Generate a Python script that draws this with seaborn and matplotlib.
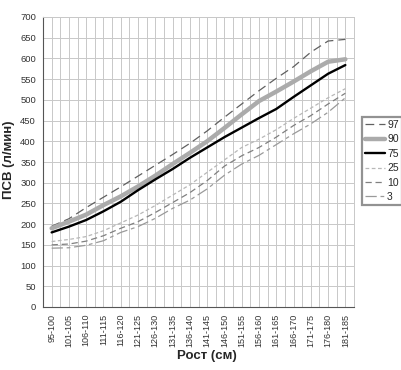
import numpy as np
import pandas as pd
import matplotlib
matplotlib.use("Agg")
import matplotlib.pyplot as plt
import seaborn as sns

categories = ["95-100", "101-105", "106-110", "111-115", "116-120", "121-125",
              "126-130", "131-135", "136-140", "141-145", "146-150", "151-155",
              "156-160", "161-165", "166-170", "171-175", "176-180", "181-185"]
p97 = [195, 213, 240, 265, 290, 316, 342, 368, 395, 425, 458, 490, 522, 552, 580, 615, 642, 646]
p90 = [190, 206, 223, 246, 267, 291, 317, 345, 372, 400, 432, 465, 497, 520, 544, 569, 592, 598]
p75 = [180, 194, 210, 231, 254, 282, 308, 333, 360, 385, 410, 433, 456, 478, 507, 535, 563, 584]
p25 = [158, 163, 170, 184, 203, 222, 245, 270, 295, 325, 355, 385, 405, 428, 455, 480, 505, 527]
p10 = [150, 152, 159, 172, 190, 206, 228, 252, 276, 305, 340, 365, 385, 410, 438, 462, 490, 516]
p3 = [142, 143, 149, 160, 180, 194, 214, 238, 258, 285, 318, 345, 366, 392, 418, 442, 470, 505]
yticks = list(range(0, 701, 50))

sns.set_theme(style="white")
plt.rcParams['font.family'] = ['Liberation Sans', 'DejaVu Sans']

fig = plt.figure(figsize=(4.01, 3.70), dpi=100)
ax = fig.add_axes([43/401, 1-307/370, (354-43)/401, (307-17)/370])

pos = np.arange(len(categories))
series = [
    ("3", p3, dict(color="#9a9a9a", lw=0.9, linestyle=(0, (9, 3, 3, 3)))),
    ("10", p10, dict(color="#808080", lw=0.9, linestyle=(0, (5, 3)))),
    ("25", p25, dict(color="#b8b8b8", lw=0.9, linestyle=(0, (3, 2)))),
    ("97", p97, dict(color="#606060", lw=0.9, linestyle=(0, (7, 4)))),
    ("90", p90, dict(color="#ababab", lw=3.2, linestyle="-")),
    ("75", p75, dict(color="#000000", lw=1.7, linestyle="-")),
]
handles = {}
for name, vals, kw in series:
    df = pd.DataFrame({"x": pos, "y": vals})
    sns.lineplot(data=df, x="x", y="y", ax=ax, sort=False, label=name, **kw)
    handles[name] = ax.get_lines()[-1]

ax.set_xlim(-0.5, len(categories) - 0.5)
ax.set_ylim(0, 700)
ax.set_xticks(pos)
ax.set_xticklabels(categories, rotation=90, fontsize=6.5, color="#333333")
ax.set_xticks(np.arange(-0.5, len(categories), 1.0), minor=True)
ax.set_yticks(yticks)
ax.set_yticklabels([str(v) for v in yticks], fontsize=6.8, color="#333333")
ax.grid(True, which="both", color="#c8c8c8", lw=0.7)
ax.set_axisbelow(True)
ax.tick_params(axis="x", which="both", direction="out", length=3, width=0.7, color="#555555", pad=2)
ax.tick_params(axis="y", which="major", direction="out", length=3, width=0.7, color="#555555", pad=2)
for s in ["top", "right"]:
    ax.spines[s].set_color("#c8c8c8")
    ax.spines[s].set_linewidth(0.7)
for s in ["left", "bottom"]:
    ax.spines[s].set_color("#555555")
    ax.spines[s].set_linewidth(0.8)

ax.set_xlabel("Рост (см)", fontsize=9.5, fontweight="bold")
ax.xaxis.set_label_coords((207-43)/(354-43), -(356-307)/(307-17))
ax.xaxis.label.set_va("center")
ax.set_ylabel("ПСВ (л/мин)", fontsize=9.5, fontweight="bold")
ax.yaxis.set_label_coords(-(43-9)/(354-43), (307-160)/(307-17))
ax.yaxis.label.set_va("center")

order = ["97", "90", "75", "25", "10", "3"]
leg = ax.legend([handles[k] for k in order], order, loc="upper left",
                bbox_to_anchor=(362/401, 1-117/370), bbox_transform=fig.transFigure,
                fontsize=7.5, handlelength=1.9, handletextpad=0.2, borderpad=0.3,
                labelspacing=0.42, frameon=True, fancybox=False, borderaxespad=0)
leg.get_frame().set_edgecolor("#777777")
leg.get_frame().set_linewidth(1.6)

fig.savefig("out.png", dpi=100)
